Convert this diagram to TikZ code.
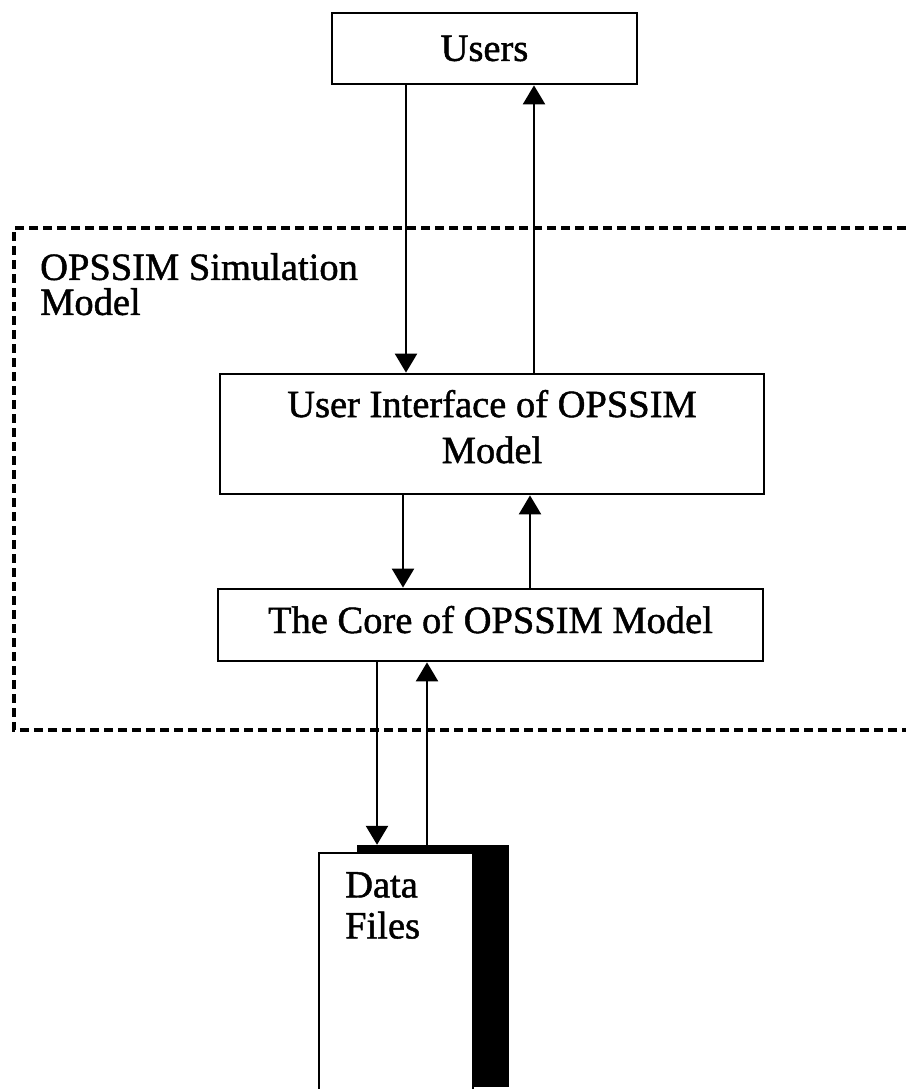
\documentclass[tikz,border=0pt]{standalone}
\usepackage{fontspec}
\setmainfont{Liberation Serif}[FakeBold=1.2]
\usetikzlibrary{arrows.meta}
\begin{document}
\begin{tikzpicture}[x=1pt,y=-1pt,
  box/.style={draw, line width=2.8pt, fill=white, inner sep=0pt, align=center,
              font=\fontsize{38.5}{46}\selectfont},
  flow/.style={line width=2.5pt, -{Triangle[width=22pt,length=19pt]}},
  boundary/.style={line width=3.2pt, dash pattern=on 9pt off 5pt},
  lbl/.style={inner sep=0pt, align=left, anchor=north west}
]
\useasboundingbox (0,0) rectangle (906,1089);

% dashed frame of the simulation model (open on the right)
\draw[boundary] (906,228) -- (14,228) -- (14,730) -- (906,730);
\node[lbl, font=\fontsize{38.5}{35}\selectfont] (modeltitle) at (40,253)
  {OPSSIM Simulation\\Model};

% main blocks
\node[box, minimum width=305pt, minimum height=71pt] (users) at (484.5,48.5) {Users};
\node[box, minimum width=544pt, minimum height=120pt] (ui) at (492,434)
  {User Interface of OPSSIM\\Model\rule[-15pt]{0pt}{15pt}};
\node[box, minimum width=545pt, minimum height=72pt, text height=26pt, text depth=10pt]
  (core) at (490.5,625) {The Core of OPSSIM Model};

% data files with its heavy shadow
\node[fill=black, inner sep=0pt, minimum width=152pt, minimum height=242pt]
  (datashadow) at (433,966) {};
\node[box, line width=2.6pt, minimum width=154pt, minimum height=242pt]
  (data) at (396,974) {};
\node[lbl, font=\fontsize{38.5}{41}\selectfont] (datatext) at (345,872) {Data\\Files};

% connector columns
\coordinate (c1) at (406,0);
\coordinate (c2) at (534,0);
\coordinate (c3) at (403,0);
\coordinate (c4) at (530,0);
\coordinate (c5) at (377,0);
\coordinate (c6) at (427,0);

\draw[flow] (users.south -| c1) -- (ui.north -| c1);
\draw[flow] (ui.north -| c2) -- (users.south -| c2);
\draw[flow] (ui.south -| c3) -- (core.north -| c3);
\draw[flow] (core.north -| c4) -- (ui.south -| c4);
\draw[flow] (core.south -| c5) -- (datashadow.north -| c5);
\draw[flow] (datashadow.north -| c6) -- (core.south -| c6);
\end{tikzpicture}
\end{document}
